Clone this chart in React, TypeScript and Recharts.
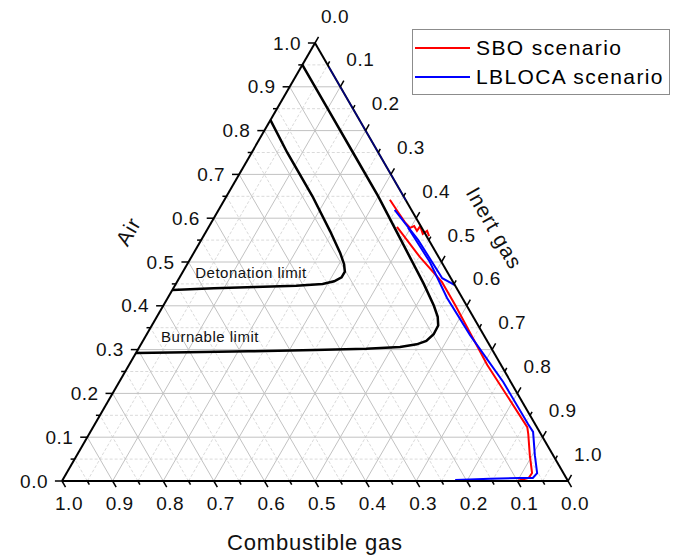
import { ComposedChart, Legend, Line, ReferenceDot, ReferenceLine, XAxis, YAxis } from "recharts"

const SQ = Math.sqrt(3) / 2
const FONT = "'Liberation Sans', Arial, sans-serif"

// compositions as [air, inert]; combustible = 1 - air - inert
const burnableLimit: [number, number][] = [
  [0.95, 0.0], [0.85, 0.1], [0.75, 0.2], [0.65, 0.3], [0.55, 0.395], [0.45, 0.49],
  [0.4, 0.535], [0.375, 0.555], [0.355, 0.566], [0.335, 0.567], [0.32, 0.56],
  [0.312, 0.545], [0.306, 0.515], [0.302, 0.45], [0.299, 0.35], [0.296, 0.22],
  [0.294, 0.1], [0.292, 0.0],
]

const detonationLimit: [number, number][] = [
  [0.824, 0.0], [0.75, 0.07], [0.65, 0.17], [0.57, 0.245], [0.52, 0.29], [0.495, 0.31],
  [0.478, 0.32], [0.465, 0.32], [0.456, 0.31], [0.45, 0.29], [0.446, 0.24],
  [0.443, 0.16], [0.44, 0.08], [0.436, 0.0],
]

const sboUpper: [number, number][] = [
  [0.642, 0.327], [0.614, 0.357], [0.591, 0.382], [0.578, 0.399], [0.582, 0.405],
  [0.571, 0.416], [0.582, 0.417], [0.564, 0.431], [0.571, 0.436], [0.559, 0.446],
]

const sboMain: [number, number][] = [
  [0.58, 0.372], [0.511, 0.452], [0.454, 0.524], [0.402, 0.576], [0.265, 0.708],
  [0.123, 0.858], [0.107, 0.868], [0.059, 0.895], [0.018, 0.92], [0.007, 0.919],
  [0.002, 0.904], [0.0, 0.9],
]

const lblocaEdge: [number, number][] = [
  [0.945, 0.055], [0.8, 0.2], [0.64, 0.36],
]

const lblocaUpper: [number, number][] = [
  [0.619, 0.348], [0.55, 0.429], [0.463, 0.52], [0.447, 0.553],
]

const lblocaMain: [number, number][] = [
  [0.578, 0.395], [0.5, 0.477], [0.418, 0.552], [0.333, 0.64], [0.226, 0.759],
  [0.13, 0.856], [0.112, 0.875], [0.059, 0.905], [0.018, 0.93], [0.007, 0.927],
  [0.007, 0.902], [0.005, 0.843], [0.002, 0.776],
]

const majorTicks = [0, 0.1, 0.2, 0.3, 0.4, 0.5, 0.6, 0.7, 0.8, 0.9, 1.0]
const minorTicks = [0.05, 0.15, 0.25, 0.35, 0.45, 0.55, 0.65, 0.75, 0.85, 0.95]
const tickLabels = ["0.0", "0.1", "0.2", "0.3", "0.4", "0.5", "0.6", "0.7", "0.8", "0.9", "1.0"]

const legendOrder = ["SBO scenario", "LBLOCA scenario"]

// ternary -> cartesian (air at top, combustible bottom-left, inert bottom-right)
const pt = (air: number, inert: number) => ({ x: inert + air / 2, y: air * SQ })
const toXY = (rows: [number, number][]) => rows.map(([a, i]) => pt(a, i))

function seg(key: string, p: { x: number; y: number }, q: { x: number; y: number }, stroke: string, width: number, dash?: string) {
  return (
    <ReferenceLine
      key={key}
      segment={[p, q]}
      stroke={stroke}
      strokeWidth={width}
      strokeDasharray={dash}
      ifOverflow="visible"
    />
  )
}

type LabelOpts = { anchor?: string; size?: number; rotate?: number; spacing?: number }

function label(key: string, p: { x: number; y: number }, text: string, dx: number, dy: number, opts: LabelOpts = {}) {
  const { anchor = "middle", size = 19, rotate = 0, spacing = 0.5 } = opts
  return (
    <ReferenceDot
      key={key}
      x={p.x}
      y={p.y}
      r={0}
      ifOverflow="visible"
      shape={(s: any) => {
        const tx = s.cx + dx
        const ty = s.cy + dy
        return (
          <text
            x={tx}
            y={ty}
            textAnchor={anchor as any}
            dominantBaseline="central"
            fontFamily={FONT}
            fontSize={size}
            letterSpacing={spacing}
            fill="#111"
            transform={rotate ? `rotate(${rotate} ${tx} ${ty})` : undefined}
          >
            {text}
          </text>
        )
      }}
    />
  )
}

function gridLines() {
  const out: any[] = []
  const add = (v: number, major: boolean) => {
    const stroke = major ? "#c2c2c2" : "#dadada"
    const dash = major ? undefined : "3 2"
    // constant air (horizontal)
    out.push(seg(`a${v}`, pt(v, 0), pt(v, 1 - v), stroke, 1, dash))
    // constant combustible
    out.push(seg(`c${v}`, pt(0, 1 - v), pt(1 - v, 0), stroke, 1, dash))
    // constant inert
    out.push(seg(`i${v}`, pt(0, v), pt(1 - v, v), stroke, 1, dash))
  }
  minorTicks.forEach((v) => add(v, false))
  majorTicks.slice(1, -1).forEach((v) => add(v, true))
  return out
}

function axisTicks() {
  const out: any[] = []
  const add = (v: number, len: number) => {
    // air: left edge, ticks point left
    const la = pt(v, 0)
    out.push(seg(`ta${v}`, la, { x: la.x - len, y: la.y }, "#000", 1.5))
    // combustible: bottom edge, ticks point down-right
    const lc = pt(0, 1 - v)
    out.push(seg(`tc${v}`, lc, { x: lc.x + len * 0.5, y: lc.y - len * SQ }, "#000", 1.5))
    // inert: right edge, ticks point up-right
    const li = pt(1 - v, v)
    out.push(seg(`ti${v}`, li, { x: li.x + len * 0.5, y: li.y + len * SQ }, "#000", 1.5))
  }
  majorTicks.forEach((v) => add(v, 0.014))
  minorTicks.forEach((v) => add(v, 0.008))
  return out
}

function tickText() {
  const out: any[] = []
  majorTicks.forEach((v, k) => {
    out.push(label(`la${v}`, pt(v, 0), tickLabels[k], -14, 0, { anchor: "end" }))
    out.push(label(`lc${v}`, pt(0, 1 - v), tickLabels[k], 7, 22))
    out.push(label(`li${v}`, pt(1 - v, v), tickLabels[k], 20, -27))
  })
  return out
}

function LegendBox({ payload }: any) {
  const items = [...(payload || [])]
    .filter((p: any) => legendOrder.includes(p.value))
    .sort((a: any, b: any) => legendOrder.indexOf(a.value) - legendOrder.indexOf(b.value))
  return (
    <div
      style={{
        boxSizing: "border-box",
        border: "1px solid #8c8c8c",
        background: "#fff",
        padding: "3px 4px 3px 2px",
        fontFamily: FONT,
        fontSize: 21,
        letterSpacing: 1.4,
        lineHeight: "29px",
        width: 258,
      }}
    >
      {items.map((p: any) => (
        <div key={p.value} style={{ display: "flex", alignItems: "center", whiteSpace: "nowrap" }}>
          <span style={{ display: "inline-block", width: 55, height: 2, background: p.color, marginRight: 6 }} />
          <span style={{ color: "#000" }}>{p.value}</span>
        </div>
      ))}
    </div>
  )
}

export default function App() {
  const lineProps = { type: "linear" as const, dataKey: "y", dot: false, activeDot: false, isAnimationActive: false }
  return (
    <div style={{ position: "fixed", left: 0, top: 0, width: 676, height: 555, background: "#fff" }}>
      <ComposedChart width={676} height={555} margin={{ top: 43, right: 108, bottom: 74, left: 62 }}>
        <XAxis type="number" dataKey="x" domain={[0, 1]} hide allowDataOverflow />
        <YAxis type="number" dataKey="y" domain={[0, SQ]} hide allowDataOverflow />
        {gridLines()}

        <Line {...lineProps} data={toXY(burnableLimit)} stroke="#000" strokeWidth={2.5} legendType="none" name="Burnable limit" />
        <Line {...lineProps} data={toXY(detonationLimit)} stroke="#000" strokeWidth={2.5} legendType="none" name="Detonation limit" />

        <Line {...lineProps} data={toXY(sboUpper)} stroke="#ff0000" strokeWidth={2} legendType="none" name="SBO upper" />
        <Line {...lineProps} data={toXY(sboMain)} stroke="#ff0000" strokeWidth={2} name="SBO scenario" />
        <Line {...lineProps} data={toXY(lblocaUpper)} stroke="#0000ff" strokeWidth={2} legendType="none" name="LBLOCA upper" />
        <Line {...lineProps} data={toXY(lblocaMain)} stroke="#0000ff" strokeWidth={2} name="LBLOCA scenario" />

        {seg("e1", pt(0, 0), pt(0, 1), "#000", 2)}
        {seg("e2", pt(0, 1), pt(1, 0), "#000", 2)}
        {seg("e3", pt(1, 0), pt(0, 0), "#000", 2)}
        <Line {...lineProps} data={toXY(lblocaEdge)} stroke="#0000ff" strokeOpacity={0.5} strokeWidth={1.5} legendType="none" name="LBLOCA edge" />

        {axisTicks()}
        {tickText()}

        {label("tDet", pt(0.477, 0.135), "Detonation limit", 0, 0, { size: 15, spacing: 0.5 })}
        {label("tBurn", pt(0.331, 0.127), "Burnable limit", 0, 0, { size: 15, spacing: 0.5 })}
        {label("tAir", pt(0.57, 0), "Air", -78, 0, { size: 21, rotate: -60, spacing: 1 })}
        {label("tInert", pt(0.5, 0.5), "Inert gas", 53, -34, { size: 21, rotate: 60, spacing: 1 })}
        {label("tComb", pt(0, 0.5), "Combustible gas", 0, 61, { size: 22, spacing: 0.8 })}

        <Legend
          layout="horizontal"
          verticalAlign="middle"
          align="center"
          content={<LegendBox />}
          wrapperStyle={{ left: 412, top: 29, width: 258 }}
        />
      </ComposedChart>
    </div>
  )
}
